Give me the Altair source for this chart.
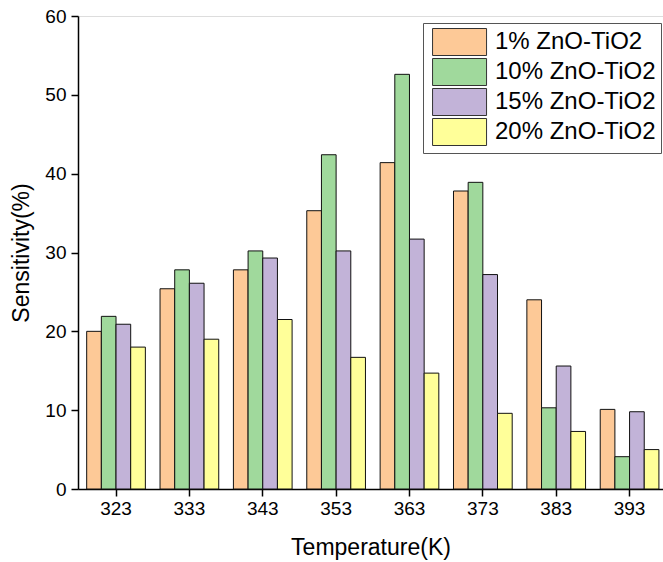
import altair as alt
import pandas as pd

temperatures = ["323", "333", "343", "353", "363", "373", "383", "393"]
series_names = ["1% ZnO-TiO2", "10% ZnO-TiO2", "15% ZnO-TiO2", "20% ZnO-TiO2"]
s1 = [20.0, 25.4, 27.8, 35.3, 41.4, 37.8, 24.0, 10.1]
s10 = [21.9, 27.8, 30.2, 42.4, 52.6, 38.9, 10.3, 4.1]
s15 = [20.9, 26.1, 29.3, 30.2, 31.7, 27.2, 15.6, 9.8]
s20 = [18.0, 19.0, 21.5, 16.7, 14.7, 9.6, 7.3, 5.0]
colors = ["#FDC997", "#A0D99C", "#C2B3D8", "#FFFF99"]

rows = []
for name, vals in zip(series_names, [s1, s10, s15, s20]):
    for t, v in zip(temperatures, vals):
        rows.append({"Temperature": t, "Series": name, "Sensitivity": v})
df = pd.DataFrame(rows)

FONT = "Liberation Sans"

chart = alt.Chart(df).mark_bar(stroke="#111111", strokeWidth=1).encode(
    x=alt.X("Temperature:N",
            sort=temperatures,
            scale=alt.Scale(domain=temperatures, paddingInner=0.2, paddingOuter=0.087, align=0.68),
            axis=alt.Axis(title="Temperature(K)", labelAngle=0, labelFontSize=19,
                          titleFontSize=23, tickSize=7, labelPadding=3, titlePadding=18,
                          domainColor="black", tickColor="black", labelColor="black",
                          titleColor="black", titleFontWeight="normal",
                          labelFont=FONT, titleFont=FONT, domainWidth=1.5, tickWidth=1.5)),
    xOffset=alt.XOffset("Series:N", sort=series_names,
                        scale=alt.Scale(domain=series_names, paddingInner=0, paddingOuter=0)),
    y=alt.Y("Sensitivity:Q",
            scale=alt.Scale(domain=[0, 60], nice=False),
            axis=alt.Axis(title="Sensitivity(%)", values=[0, 10, 20, 30, 40, 50, 60],
                          labelFontSize=19, titleFontSize=23, tickSize=7, labelPadding=5,
                          titlePadding=11, grid=False, domainColor="black", tickColor="black",
                          labelColor="black", titleColor="black", titleFontWeight="normal",
                          labelFont=FONT, titleFont=FONT, domainWidth=1.5, tickWidth=1.5)),
    color=alt.Color("Series:N",
                    scale=alt.Scale(domain=series_names, range=colors),
                    legend=alt.Legend(title=None, orient="none", legendX=345, legendY=7,
                                      symbolType="M-0.7,-1H3.3V1H-0.7Z", symbolSize=729,
                                      symbolStrokeColor="#333333", symbolStrokeWidth=1,
                                      symbolOpacity=1, labelFontSize=24, labelFont=FONT,
                                      labelColor="black", labelOffset=39, rowPadding=-2,
                                      padding=5, strokeColor="#555555", fillColor="white",
                                      labelLimit=400)),
).properties(
    width=585,
    height=473,
    autosize=alt.AutoSizeParams(type="none"),
    padding={"left": 78, "top": 16, "right": 0, "bottom": 73},
).configure_view(stroke=None).configure(background="white")

chart.save("out.html", embed_options={"renderer": "svg", "actions": False})
